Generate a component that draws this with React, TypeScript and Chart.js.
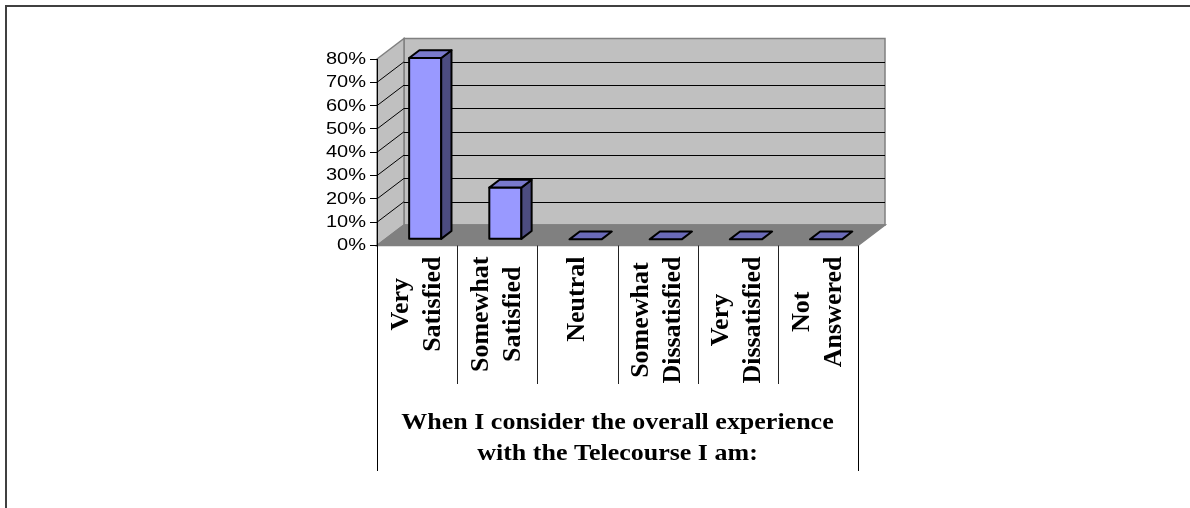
import React, { useEffect, useRef } from "react";
import { Chart, registerables } from "chart.js";

Chart.register(...registerables);

// ---- data ----
const categories: string[][] = [
  ["Very", "Satisfied"],
  ["Somewhat", "Satisfied"],
  ["Neutral"],
  ["Somewhat", "Dissatisfied"],
  ["Very", "Dissatisfied"],
  ["Not", "Answered"],
];
const values: number[] = [0.778, 0.222, 0, 0, 0, 0];
const yTickLabels: string[] = ["0%", "10%", "20%", "30%", "40%", "50%", "60%", "70%", "80%"];
const yMin = 0;
const yMax = 0.8;
const yStep = 0.1;
const titleLines: string[] = ["When I consider the overall experience", "with the Telecourse I am:"];

// ---- 3D styling ----
const DX = 27;
const DY = -20.5;
const D1 = 0.3;
const D2 = 0.68;

const chart3d = {
  id: "chart3d",
  beforeDraw(chart: any) {
    const ctx: CanvasRenderingContext2D = chart.ctx;
    const { left: L, right: R, top: T, bottom: B } = chart.chartArea;
    const ys = chart.scales.y;
    ctx.save();
    ctx.fillStyle = "#ffffff";
    ctx.fillRect(0, 0, chart.width, chart.height);
    // outer frame
    ctx.strokeStyle = "#404040";
    ctx.lineWidth = 2;
    ctx.beginPath();
    ctx.moveTo(6, chart.height);
    ctx.lineTo(6, 6);
    ctx.lineTo(chart.width, 6);
    ctx.stroke();

    // back wall
    ctx.fillStyle = "#c0c0c0";
    ctx.strokeStyle = "#808080";
    ctx.lineWidth = 1.5;
    ctx.beginPath();
    ctx.rect(L + DX, T + DY, R - L, B - T);
    ctx.fill();
    ctx.stroke();
    // left wall
    ctx.beginPath();
    ctx.moveTo(L, T);
    ctx.lineTo(L + DX, T + DY);
    ctx.lineTo(L + DX, B + DY);
    ctx.lineTo(L, B);
    ctx.closePath();
    ctx.fill();
    ctx.stroke();
    // floor
    ctx.fillStyle = "#808080";
    ctx.beginPath();
    ctx.moveTo(L, B);
    ctx.lineTo(R, B);
    ctx.lineTo(R + DX, B + DY);
    ctx.lineTo(L + DX, B + DY);
    ctx.closePath();
    ctx.fill();
    ctx.strokeStyle = "#808080";
    ctx.stroke();

    // gridlines on back wall and left wall
    ctx.strokeStyle = "#000000";
    ctx.lineWidth = 1;
    ys.ticks.forEach((t: any, i: number) => {
      if (t.value <= yMin + 1e-9 || t.value >= yMax - 1e-9) return;
      const py = ys.getPixelForTick(i);
      const by = Math.round(py + DY) + 0.5;
      ctx.beginPath();
      ctx.moveTo(L + DX, by);
      ctx.lineTo(R + DX, by);
      ctx.stroke();
      ctx.beginPath();
      ctx.moveTo(L, py);
      ctx.lineTo(L + DX, py + DY);
      ctx.stroke();
    });

    // category table lines
    const xs = chart.scales.x;
    ctx.strokeStyle = "#222222";
    ctx.lineWidth = 1;
    for (let k = 1; k < categories.length; k++) {
      const bx = Math.round((xs.getPixelForValue(k - 1) + xs.getPixelForValue(k)) / 2) + 0.5;
      ctx.beginPath();
      ctx.moveTo(bx, B);
      ctx.lineTo(bx, 384);
      ctx.stroke();
    }
    ctx.strokeStyle = "#000000";
    [L, R].forEach((x) => {
      const px = Math.round(x) + 0.5;
      ctx.beginPath();
      ctx.moveTo(px, B);
      ctx.lineTo(px, 471);
      ctx.stroke();
    });
    ctx.restore();
  },
  afterDatasetsDraw(chart: any) {
    const ctx: CanvasRenderingContext2D = chart.ctx;
    const meta = chart.getDatasetMeta(0);
    const ox1 = D1 * DX, oy1 = D1 * DY, ox2 = D2 * DX, oy2 = D2 * DY;
    ctx.save();
    ctx.lineWidth = 2;
    ctx.lineJoin = "round";
    ctx.strokeStyle = "#000000";
    meta.data.forEach((el: any, i: number) => {
      const { x, y, base, width } = el.getProps(["x", "y", "base", "width"], true);
      const x1 = x - width / 2;
      const x2 = x + width / 2;
      const hasHeight = values[i] > 0;
      if (hasHeight) {
        // front
        ctx.fillStyle = "#9999ff";
        ctx.beginPath();
        ctx.rect(x1 + ox1, y + oy1, width, base - y);
        ctx.fill();
        ctx.stroke();
        // side
        ctx.fillStyle = "#4c4c80";
        ctx.beginPath();
        ctx.moveTo(x2 + ox1, y + oy1);
        ctx.lineTo(x2 + ox2, y + oy2);
        ctx.lineTo(x2 + ox2, base + oy2);
        ctx.lineTo(x2 + ox1, base + oy1);
        ctx.closePath();
        ctx.fill();
        ctx.stroke();
      }
      // top
      ctx.fillStyle = hasHeight ? "#7a7acc" : "#6b6bb8";
      ctx.beginPath();
      ctx.moveTo(x1 + ox1, y + oy1);
      ctx.lineTo(x2 + ox1, y + oy1);
      ctx.lineTo(x2 + ox2, y + oy2);
      ctx.lineTo(x1 + ox2, y + oy2);
      ctx.closePath();
      ctx.fill();
      ctx.stroke();
    });
    ctx.restore();
  },
  afterDraw(chart: any) {
    const ctx: CanvasRenderingContext2D = chart.ctx;
    const { left: L, right: R, bottom: B } = chart.chartArea;
    const ys = chart.scales.y;
    const xs = chart.scales.x;
    ctx.save();
    ctx.fillStyle = "#000000";
    // y tick labels
    ctx.font = '16px "Liberation Sans", Arial, sans-serif';
    ctx.textAlign = "right";
    ctx.textBaseline = "middle";
    ys.ticks.forEach((t: any, i: number) => {
      const py = ys.getPixelForTick(i);
      ctx.save();
      ctx.translate(L - 11, py + 0.5);
      ctx.scale(1.25, 1);
      ctx.fillText(String(t.label), 0, 0);
      ctx.restore();
    });
    // category labels (rotated)
    ctx.font = 'bold 26px "Liberation Serif", "Times New Roman", serif';
    ctx.textAlign = "center";
    ctx.textBaseline = "middle";
    const pitch = 32;
    categories.forEach((lines, i) => {
      const cx = xs.getPixelForValue(i);
      const wmax = Math.max(...lines.map((l) => ctx.measureText(l).width));
      ctx.save();
      ctx.translate(cx, B + 11);
      ctx.rotate(-Math.PI / 2);
      lines.forEach((l, k) => {
        ctx.fillText(l, -wmax / 2, (k - (lines.length - 1) / 2) * pitch);
      });
      ctx.restore();
    });
    // axis title
    ctx.font = 'bold 23px "Liberation Serif", "Times New Roman", serif';
    ctx.textAlign = "center";
    ctx.textBaseline = "alphabetic";
    const tcx = (L + R) / 2;
    titleLines.forEach((line, k) => {
      ctx.save();
      ctx.translate(tcx, 429 + k * 31);
      ctx.scale(1.13, 1);
      ctx.fillText(line, 0, 0);
      ctx.restore();
    });
    ctx.restore();
  },
};

export default function App() {
  const canvasRef = useRef<HTMLCanvasElement | null>(null);
  useEffect(() => {
    if (!canvasRef.current) return;
    const chart = new Chart(canvasRef.current, {
      type: "bar",
      data: {
        labels: categories.map((c) => c.join(" ")),
        datasets: [
          {
            data: values,
            backgroundColor: "rgba(0,0,0,0)",
            borderWidth: 0,
            barPercentage: 0.4,
            categoryPercentage: 1,
          },
        ],
      },
      options: {
        responsive: false,
        animation: false,
        events: [],
        layout: { padding: { left: 300, right: 332, top: 59, bottom: 262.5 } },
        plugins: { legend: { display: false }, tooltip: { enabled: false } },
        scales: {
          x: { display: false },
          y: {
            min: yMin,
            max: yMax,
            ticks: {
              stepSize: yStep,
              display: false,
              callback: (_v: any, i: number) => yTickLabels[i],
            },
            grid: { drawOnChartArea: false, drawTicks: true, tickLength: 7, color: "#000000" },
            border: { display: true, color: "#000000" },
            afterFit: (s: any) => {
              s.width = 77;
            },
          },
        },
      } as any,
      plugins: [chart3d],
    });
    return () => chart.destroy();
  }, []);
  return (
    <div style={{ position: "fixed", left: 0, top: 0, width: 1190, height: 508, background: "#fff" }}>
      <canvas ref={canvasRef} width={1190} height={508} />
    </div>
  );
}
